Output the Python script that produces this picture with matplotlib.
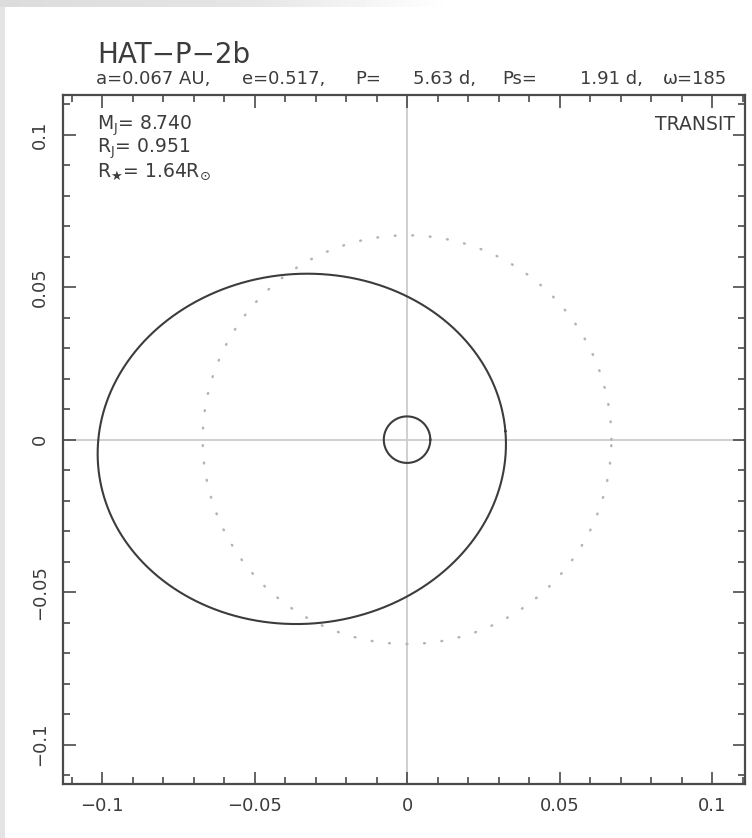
import numpy as np
import matplotlib
matplotlib.use("Agg")
import matplotlib.pyplot as plt
from matplotlib.patches import Rectangle

# orbital elements of HAT-P-2b
planet = "HAT\u2212P\u22122b"
semi_major_au = 0.067
eccentricity = 0.517
period_d = 5.63
period_s_d = 1.91
omega_deg = 185
mass_j = 8.740
radius_j = 0.951
radius_star_sun = 1.64
status = "TRANSIT"

au_per_rsun = 0.00465047

tick_major = [-0.1, -0.05, 0, 0.05, 0.1]
tick_labels = ["\u22120.1", "\u22120.05", "0", "0.05", "0.1"]
tick_minor = np.round(np.arange(-0.11, 0.111, 0.01), 3)

plt.rcParams["font.family"] = ["DejaVu Sans"]
plt.rcParams["mathtext.default"] = "regular"

W, H = 752, 838
ink = "#3c3c3c"
fig = plt.figure(figsize=(W / 100, H / 100), dpi=100, facecolor="#e4e4e4")
fig.patches.append(Rectangle((5 / W, 0), 1, 1 - 7 / H, transform=fig.transFigure,
                             facecolor="white", edgecolor="none", zorder=-10))
# grey band along the top fading out to the right
band = np.interp(np.arange(W), [0, 250, 450, W], [0.86, 0.9, 1.0, 1.0])
fig.figimage(np.tile(band, (7, 1)), xo=0, yo=H - 7, cmap="gray", vmin=0, vmax=1, zorder=-5)

ax_left, ax_right, ax_top = 63, 745, 95
xlim = (-0.1128, 0.1108)
scale = (ax_right - ax_left) / (xlim[1] - xlim[0])
ylim = (-0.113, 0.113)
ax_h = (ylim[1] - ylim[0]) * scale
ax = fig.add_axes([ax_left / W, 1 - (ax_top + ax_h) / H, (ax_right - ax_left) / W, ax_h / H])
ax.set_xlim(*xlim)
ax.set_ylim(*ylim)
ax.set_facecolor("none")

# reference cross through the star
ax.axhline(0, color="#cfcfcf", lw=1.4, zorder=1)
ax.axvline(0, color="#cfcfcf", lw=1.4, zorder=1)

# circular orbit of the same semi-major axis
t = np.linspace(0, 2 * np.pi, 721)
ax.plot(semi_major_au * np.cos(t), semi_major_au * np.sin(t), color="#b4b4b4", lw=1.8,
        linestyle=(0, (0.3, 6.7)), dash_capstyle="round", zorder=2)

# eccentric orbit, star at the focus
phi = np.deg2rad(omega_deg - 180)
nu = np.linspace(0, 2 * np.pi, 1441)
r = semi_major_au * (1 - eccentricity ** 2) / (1 + eccentricity * np.cos(nu))
ax.plot(r * np.cos(nu + phi), r * np.sin(nu + phi), color=ink, lw=1.5, zorder=3)

# stellar disc
rs = radius_star_sun * au_per_rsun
ax.plot(rs * np.cos(t), rs * np.sin(t), color=ink, lw=1.5, zorder=3)

for side in ax.spines.values():
    side.set_color("#4a4a4a")
    side.set_linewidth(1.6)

ax.set_xticks(tick_major, labels=tick_labels)
ax.set_yticks(tick_major, labels=tick_labels)
ax.set_xticks(tick_minor, minor=True)
ax.set_yticks(tick_minor, minor=True)
ax.tick_params(which="both", direction="in", top=True, right=True, color="#4a4a4a", width=1.2)
ax.tick_params(which="major", length=9, labelsize=13, labelcolor=ink)
ax.tick_params(which="minor", length=5)
ax.tick_params(axis="x", pad=9)
ax.tick_params(axis="y", pad=10)
for lab in ax.get_yticklabels():
    lab.set_rotation(90)
    lab.set_va("center")

fig.text(97 / W, 1 - 63 / H, planet, fontsize=20, color=ink, va="baseline")

# orbit summary line, one field at a time
fields = [
    (96, f"a={semi_major_au:.3f} AU,"),
    (242, f"e={eccentricity:.3f},"),
    (355, "P="),
    (413, f"{period_d:.2f} d,"),
    (502, "Ps="),
    (580, f"{period_s_d:.2f} d,"),
    (663, f"\u03c9={omega_deg}"),
]
for x, s in fields:
    fig.text(x / W, 1 - 84 / H, s, fontsize=13, color=ink, va="baseline")

tx = dict(fontsize=13.5, color=ink, va="baseline")
fig.text(97 / W, 1 - 130 / H, f"M$_J$= {mass_j:.3f}", **tx)
fig.text(97 / W, 1 - 153 / H, f"R$_J$= {radius_j:.3f}", **tx)
fig.text(97 / W, 1 - 177 / H, f"R$_\u2605$= {radius_star_sun:.2f}R$_\u2299$", **tx)
fig.text(735 / W, 1 - 130 / H, status, ha="right", **tx)

fig.savefig("out.png", dpi=100, facecolor=fig.get_facecolor())
